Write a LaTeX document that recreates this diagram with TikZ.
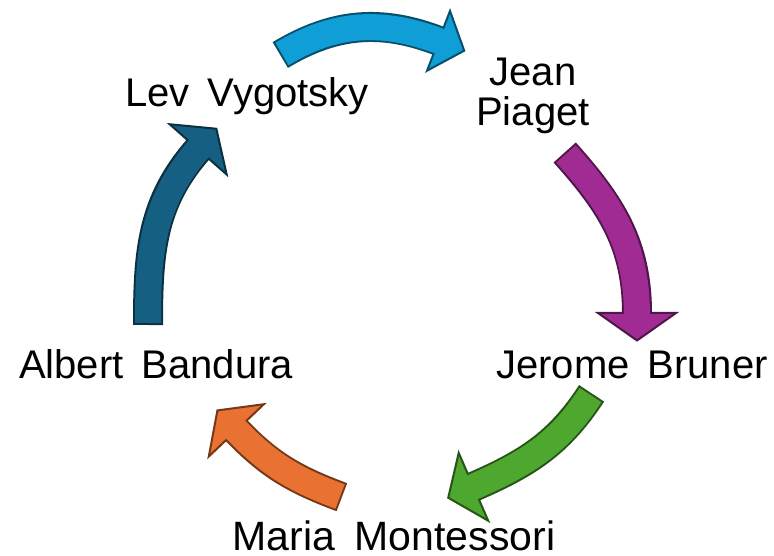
\documentclass[tikz,border=0pt]{standalone}
\usepackage{fontspec}
\setmainfont{Liberation Sans}
\definecolor{cLB}{HTML}{0F9ED5}\definecolor{bLB}{HTML}{084F6B}
\definecolor{cMG}{HTML}{A02B93}\definecolor{bMG}{HTML}{50164A}
\definecolor{cGR}{HTML}{4EA72E}\definecolor{bGR}{HTML}{275417}
\definecolor{cOR}{HTML}{E97132}\definecolor{bOR}{HTML}{753919}
\definecolor{cDB}{HTML}{156082}\definecolor{bDB}{HTML}{0B3041}
\newcommand\cyclearrow[7]{% fill, border, tail, out, base, in, head half-width
  \draw[#2, line width=30pt, shorten <=-2pt] #3 to[out=#4,in=#6] #5;
  \begin{scope}[shift={#5}, rotate=#6+180]
    \filldraw[fill=#1, draw=#2, line width=2pt, line join=miter] (-0.5,#7) -- (27,0) -- (-0.5,-#7) -- cycle;
  \end{scope}
  \draw[#1, line width=26pt, shorten >=-3pt] #3 to[out=#4,in=#6] #5;
}
\tikzset{lbl/.style={font=\fontsize{40}{40}\selectfont, inner sep=0pt, text=black}}
\begin{document}
\begin{tikzpicture}[x=1pt,y=1pt]
\useasboundingbox (0,0) rectangle (774,555);
\fill[white] (0,0) rectangle (774,555);
% arrows
\cyclearrow{cLB}{bLB}{(282,501)}{31}{(439,514)}{159}{32}
\cyclearrow{cMG}{bMG}{(566,401)}{-48}{(637,241.5)}{90}{39}
\cyclearrow{cGR}{bGR}{(590.5,160)}{-123}{(473,68)}{23.5}{37}
\cyclearrow{cOR}{bOR}{(340,58.5)}{159.5}{(236,125)}{-46.5}{38}
\cyclearrow{cDB}{bDB}{(148,232)}{90}{(198.5,406)}{-131.4}{38}
% labels
\node[lbl, anchor=base] (lev) at (247,448) {Lev\hspace{7pt} Vygotsky};
\node[lbl, anchor=north, align=center] (jean) at (533,497) {Jean\\Piaget};
\node[lbl, anchor=base] (jerome) at (632,177) {Jerome\hspace{7pt} Bruner};
\node[lbl, anchor=base, font=\fontsize{41}{41}\selectfont] (maria) at (394,5) {Maria\hspace{8pt} Montessori};
\node[lbl, anchor=base] (albert) at (156,177) {Albert\hspace{7pt} Bandura};
\end{tikzpicture}
\end{document}
